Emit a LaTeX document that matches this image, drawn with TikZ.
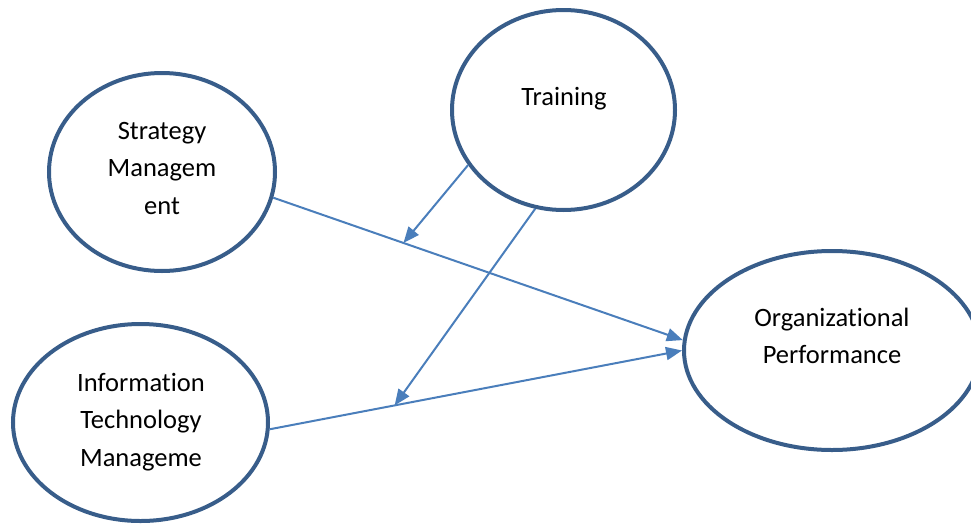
\documentclass[tikz,border=0pt]{standalone}
\usepackage{fontspec}
\setmainfont{Carlito}[Ligatures=NoCommon]
\usetikzlibrary{shapes.geometric,arrows.meta}
\definecolor{ringblue}{HTML}{385D8A}
\definecolor{arrowblue}{HTML}{4A7EBB}
\tikzset{
  ring/.style={ellipse, draw=ringblue, line width=4pt, inner sep=0pt},
  lbl/.style={align=center, inner sep=0pt, font=\fontsize{26.5}{37.5}\selectfont, text=black},
  conn/.style={draw=arrowblue, line width=2pt, -{Triangle[length=16pt,width=13pt]}}
}
\begin{document}
\begin{tikzpicture}[x=1pt,y=-1pt]
\useasboundingbox (0,0) rectangle (971,525);
\clip (0,0) rectangle (971,525);
% ellipses
\node[ring, minimum width=226pt, minimum height=198pt] (s) at (162,172) {};
\node[ring, minimum width=223pt, minimum height=200pt] (t) at (563.5,110) {};
\node[ring, minimum width=296pt, minimum height=199pt] (o) at (832,350.5) {};
\node[ring, minimum width=255pt, minimum height=197pt] (it) at (140.5,422.5) {};
% labels
\node[lbl] (sl) at (162,168) {Strategy\\Managem\\ent};
\node[lbl, anchor=base] (tl) at (564,105) {Training};
\node[lbl] (ol) at (832,336) {Organizational\\Performance};
\node[lbl] (itl) at (141,422) {Information\\Technology\\Manageme};
% connectors
\draw[conn] (s.-13) -- (o.176) coordinate[pos=0.318] (p1);
\draw[conn] (it.-3) -- (o.180) coordinate[pos=0.303] (p2);
\draw[conn] (t.210) -- (p1);
\draw[conn] (t.254) -- (p2);
\end{tikzpicture}
\end{document}
